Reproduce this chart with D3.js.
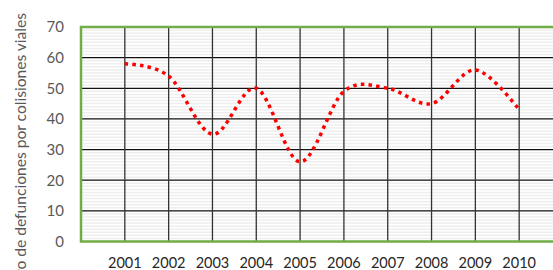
<!DOCTYPE html>
<html>
<head>
<meta charset="utf-8">
<script src="https://cdn.jsdelivr.net/npm/d3@7"></script>
<style>
body { margin: 0; background: #fff; }
svg { display: block; font-family: Lato, "Open Sans", sans-serif; }
</style>
</head>
<body>
<script>
// data
var years = [2001, 2002, 2003, 2004, 2005, 2006, 2007, 2008, 2009, 2010];
var deaths = [58, 54, 35, 50, 26, 49, 50, 45, 56, 43];
var yTicks = [0, 10, 20, 30, 40, 50, 60, 70];
var yTitle = "Número de defunciones por colisiones viales";

var width = 553, height = 270;
var plotLeft = 81, plotTop = 27, plotBottom = 241.5, plotRight = 563;

var svg = d3.select("body").append("svg").attr("width", width).attr("height", height);

var x = d3.scaleLinear().domain([2000, 2011]).range([plotLeft, plotRight]);
var y = d3.scaleLinear().domain([0, 70]).range([plotBottom, plotTop]);

// minor stripes every unit
var minor = d3.range(1, 70).filter(function(v) { return v % 10 != 0; });
svg.append("g").selectAll("line").data(minor).enter().append("line")
  .attr("x1", plotLeft).attr("x2", plotRight)
  .attr("y1", function(d) { return y(d); }).attr("y2", function(d) { return y(d); })
  .attr("stroke", "#eeeeee").attr("stroke-width", 1.5);

// major horizontal grid
svg.append("g").selectAll("line").data(yTicks.slice(1, -1)).enter().append("line")
  .attr("x1", plotLeft).attr("x2", plotRight)
  .attr("y1", function(d) { return y(d); }).attr("y2", function(d) { return y(d); })
  .attr("stroke", "#111").attr("stroke-width", 1.2);

// vertical grid on each year
svg.append("g").selectAll("line").data(years).enter().append("line")
  .attr("x1", function(d) { return x(d); }).attr("x2", function(d) { return x(d); })
  .attr("y1", plotTop).attr("y2", plotBottom)
  .attr("stroke", "#333").attr("stroke-width", 1.3);

// green frame
svg.append("path")
  .attr("d", "M" + plotRight + "," + plotTop + "H" + plotLeft + "V" + plotBottom + "H" + plotRight)
  .attr("fill", "none").attr("stroke", "#70ad47").attr("stroke-width", 2.5);

// y labels
svg.append("g").selectAll("text").data(yTicks).enter().append("text")
  .attr("x", 64).attr("y", function(d) { return y(d); })
  .attr("dy", "0.36em").attr("text-anchor", "end")
  .attr("fill", "#595959").style("font-size", "15px")
  .text(function(d) { return d; });

// x labels
svg.append("g").selectAll("text").data(years).enter().append("text")
  .attr("x", function(d) { return x(d); }).attr("y", 268)
  .attr("text-anchor", "middle")
  .attr("fill", "#262626").style("font-size", "14.5px")
  .text(function(d) { return d; });

// axis title (runs off the bottom like the original)
svg.append("text")
  .attr("transform", "translate(26,13) rotate(-90)")
  .attr("text-anchor", "end")
  .attr("fill", "#595959").style("font-size", "15.6px")
  .text(yTitle);

// smoothed dotted line
var line = d3.line()
  .x(function(d, i) { return x(years[i]); })
  .y(function(d) { return y(d); })
  .curve(d3.curveCardinal.tension(0));

svg.append("path").datum(deaths)
  .attr("d", line)
  .attr("fill", "none").attr("stroke", "#ff0000")
  .attr("stroke-width", 3.5).attr("stroke-dasharray", "3.5,4.2");
</script>
</body>
</html>
